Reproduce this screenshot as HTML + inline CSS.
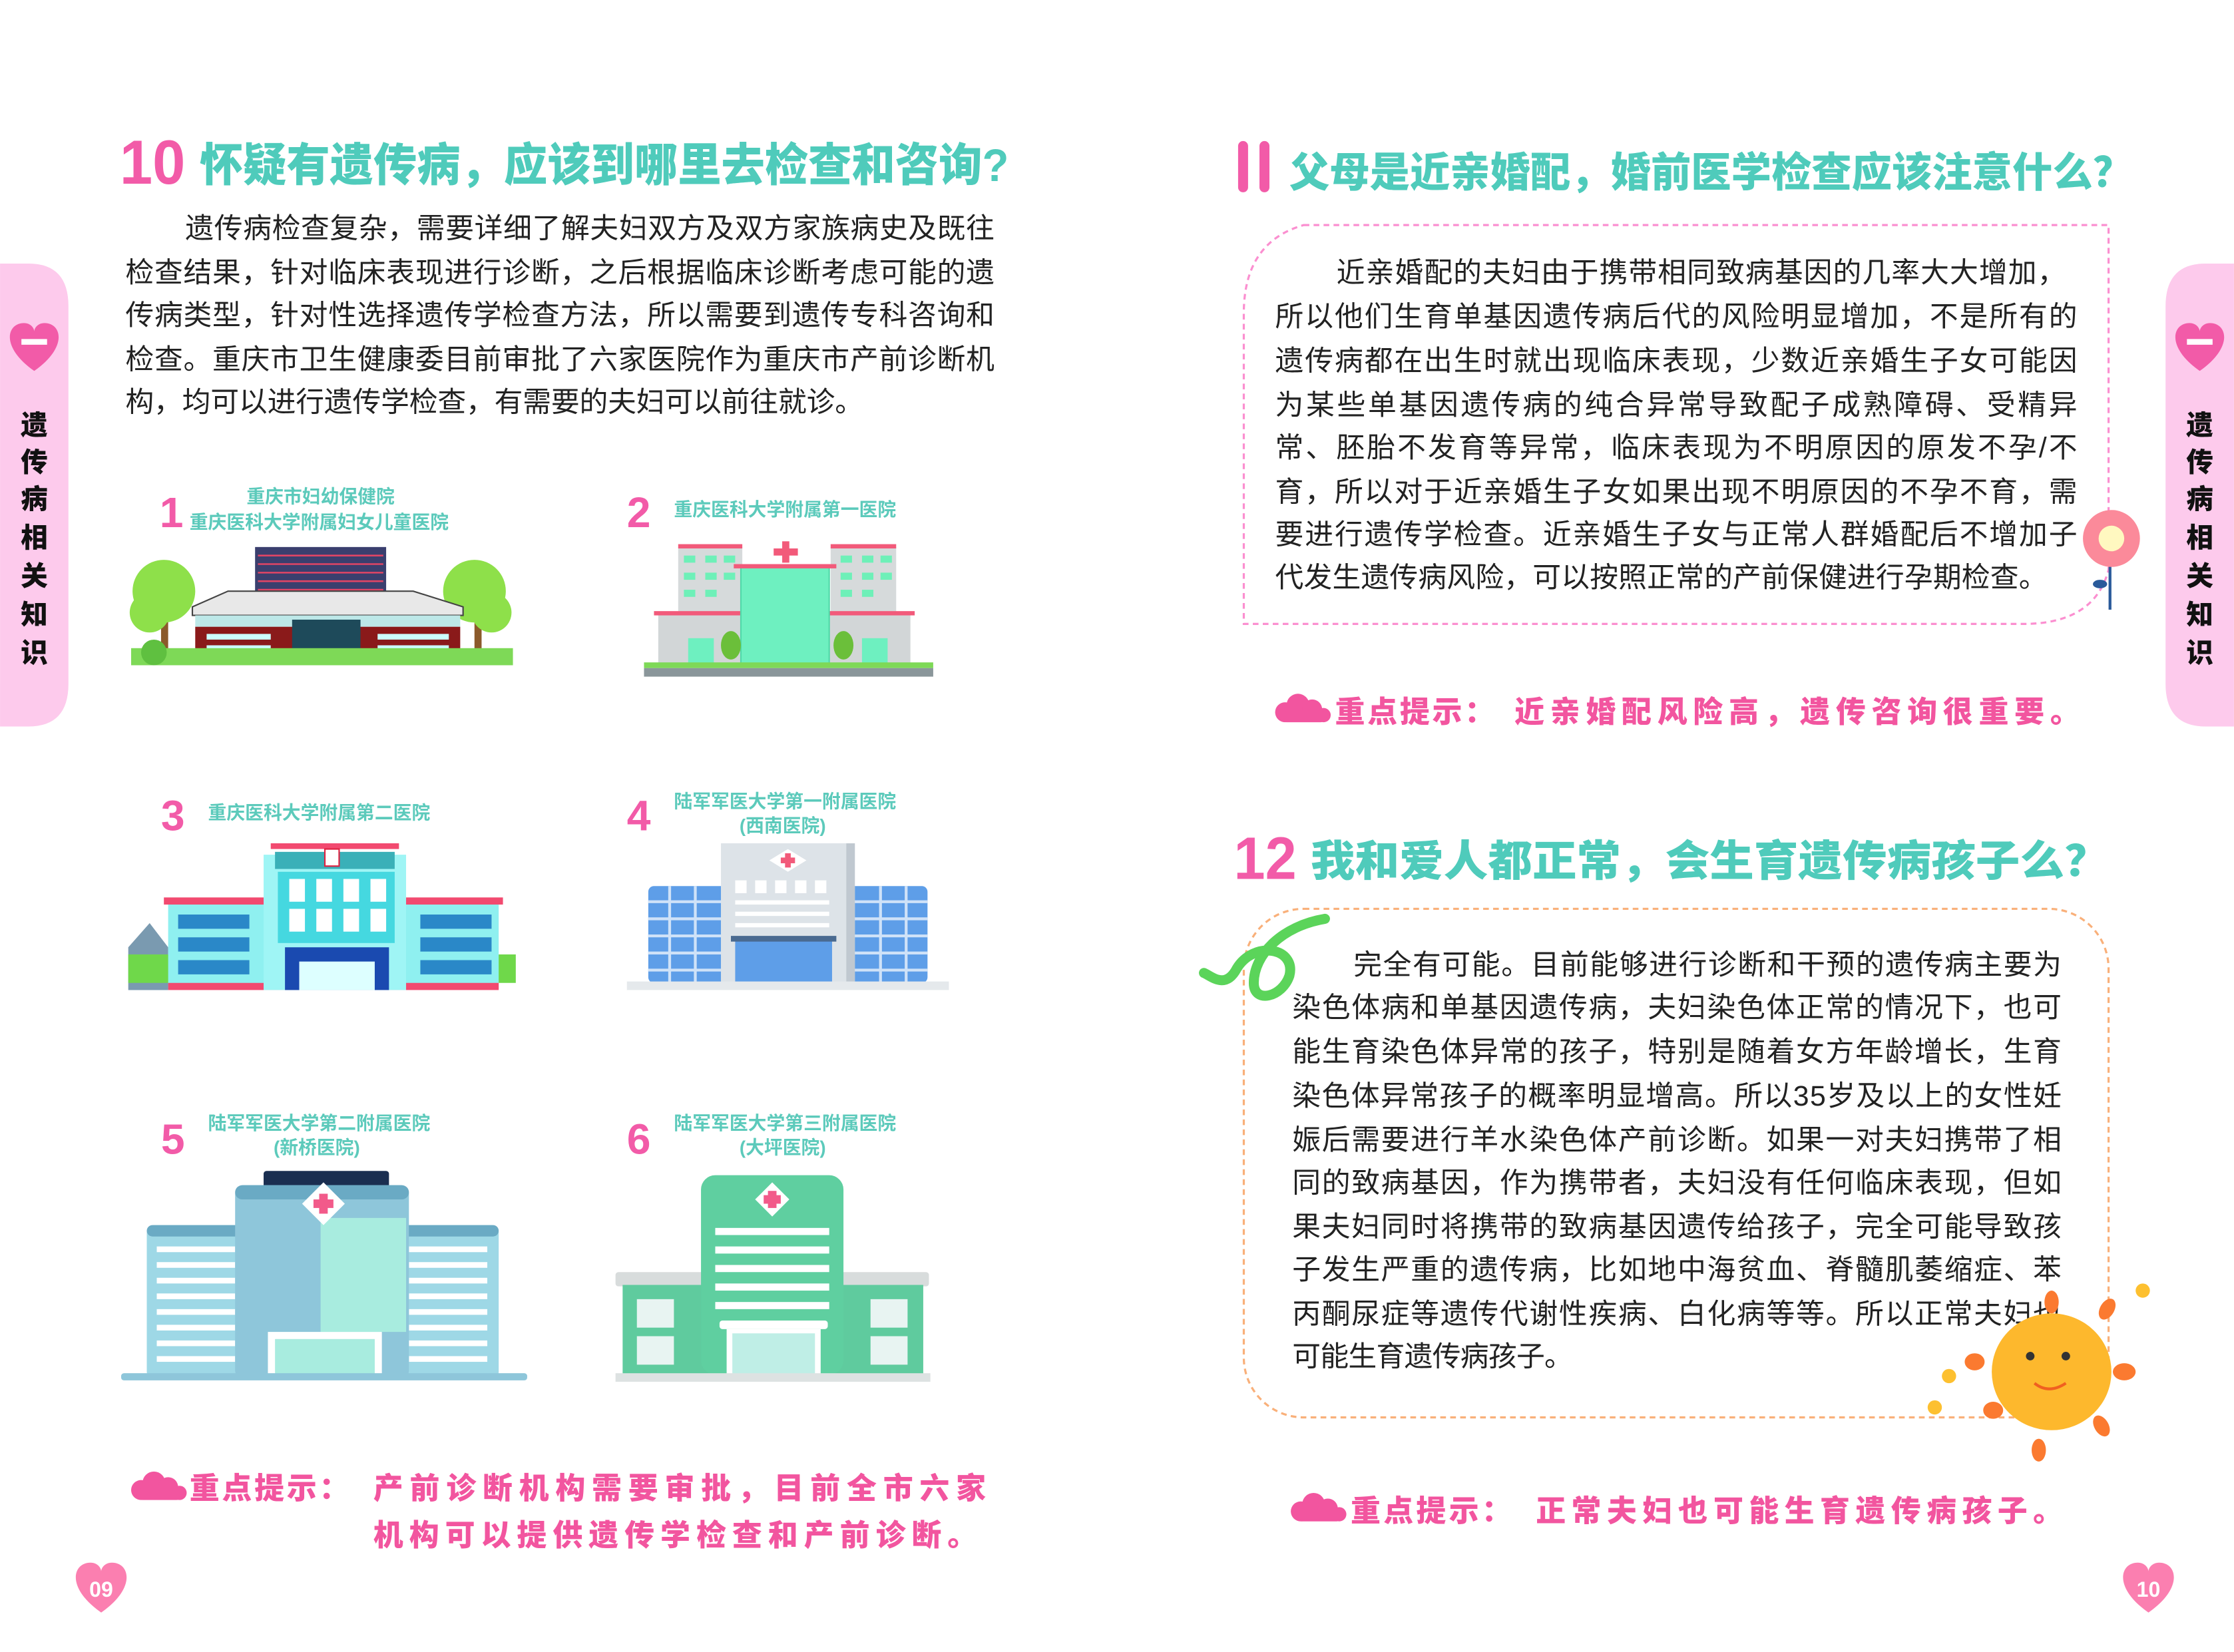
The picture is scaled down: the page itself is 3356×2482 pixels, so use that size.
<!DOCTYPE html>
<html><head><meta charset="utf-8"><style>
html,body{margin:0;padding:0;background:#fff;width:3356px;height:2482px;overflow:hidden}
svg{display:block}
.b{font-family:"Liberation Sans","Noto Sans CJK SC",sans-serif;font-size:20px;fill:#222}
.t{font-family:"Liberation Sans","Noto Sans CJK SC",sans-serif;font-weight:900;fill:#4fcbbb}
.p{font-family:"Liberation Sans","Noto Sans CJK SC",sans-serif;font-weight:900;fill:#f2559f;font-size:21px}
.n{font-family:"Liberation Sans","Noto Sans CJK SC",sans-serif;font-weight:900;fill:#f25ba8}
.h{font-family:"Liberation Sans","Noto Sans CJK SC",sans-serif;font-weight:700;fill:#5ccabb;font-size:13px}
.s{font-family:"Liberation Sans","Noto Sans CJK SC",sans-serif;font-weight:900;fill:#111;font-size:19px}
</style></head><body>
<svg width="3356" height="2482" viewBox="0 0 1568 1159.7" xmlns="http://www.w3.org/2000/svg">
<defs>
<g id="heart"><path d="M0,12 C-20,-2 -16,-16 -6,-16 C-2,-16 0,-13 0,-11 C0,-13 2,-16 6,-16 C16,-16 20,-2 0,12Z"/></g>
<g id="cloud"><circle cx="0" cy="0" r="7"/><circle cx="9" cy="-5" r="8"/><circle cx="19" cy="-2" r="7"/><circle cx="27" cy="2" r="5"/><rect x="-3" y="-1" width="32" height="8" rx="4"/></g>
</defs>
<!-- sidebars -->
<path d="M0,185 H20 Q48,185 48,215 V480 Q48,510 20,510 H0Z" fill="#fdcaec"/>
<path d="M1568,185 H1548 Q1520,185 1520,215 V480 Q1520,510 1548,510 H1568Z" fill="#fdcaec"/>
<g fill="#f25ba8"><use href="#heart" transform="translate(24,246) scale(1.2)"/><use href="#heart" transform="translate(1544,246) scale(1.2)"/></g>
<rect x="15" y="238" width="18" height="4" fill="#fff"/><rect x="1535" y="238" width="18" height="4" fill="#fff"/>
<g class="s" text-anchor="middle">
<text x="24" y="305">遗</text><text x="24" y="331">传</text><text x="24" y="357">病</text><text x="24" y="384">相</text><text x="24" y="411">关</text><text x="24" y="438">知</text><text x="24" y="465">识</text>
<text x="1544" y="305">遗</text><text x="1544" y="331">传</text><text x="1544" y="357">病</text><text x="1544" y="384">相</text><text x="1544" y="411">关</text><text x="1544" y="438">知</text><text x="1544" y="465">识</text>
</g>
<!-- title 10 -->
<text class="n" x="84" y="129" font-size="44" textLength="46" lengthAdjust="spacingAndGlyphs">10</text>
<text class="t" x="140" y="127" font-size="32" textLength="568" lengthAdjust="spacingAndGlyphs">怀疑有遗传病，应该到哪里去检查和咨询?</text>
<g class="b">
<text x="130" y="167" textLength="568">遗传病检查复杂，需要详细了解夫妇双方及双方家族病史及既往</text>
<text x="88" y="198" textLength="610">检查结果，针对临床表现进行诊断，之后根据临床诊断考虑可能的遗</text>
<text x="88" y="228" textLength="610">传病类型，针对性选择遗传学检查方法，所以需要到遗传专科咨询和</text>
<text x="88" y="259" textLength="610">检查。重庆市卫生健康委目前审批了六家医院作为重庆市产前诊断机</text>
<text x="88" y="289" textLength="518">构，均可以进行遗传学检查，有需要的夫妇可以前往就诊。</text>
</g>
<!-- hospital labels -->
<g class="n" font-size="30">
<text x="112" y="370">1</text><text x="440" y="370">2</text><text x="113" y="583">3</text><text x="440" y="583">4</text><text x="113" y="810">5</text><text x="440" y="810">6</text>
</g>
<g class="h">
<text x="173" y="353">重庆市妇幼保健院</text><text x="133" y="371">重庆医科大学附属妇女儿童医院</text>
<text x="473" y="362">重庆医科大学附属第一医院</text>
<text x="146" y="575">重庆医科大学附属第二医院</text>
<text x="473" y="567">陆军军医大学第一附属医院</text><text x="519" y="584">(西南医院)</text>
<text x="146" y="793">陆军军医大学第二附属医院</text><text x="192" y="810">(新桥医院)</text>
<text x="473" y="793">陆军军医大学第三附属医院</text><text x="519" y="810">(大坪医院)</text>
</g>
<!-- H1 -->
<g>
<rect x="113" y="430" width="5" height="30" fill="#8b5a2b"/><circle cx="115" cy="415" r="22" fill="#8ee04a"/><circle cx="105" cy="430" r="14" fill="#8ee04a"/>
<rect x="333" y="430" width="5" height="30" fill="#8b5a2b"/><circle cx="333" cy="415" r="22" fill="#8ee04a"/><circle cx="345" cy="430" r="14" fill="#8ee04a"/>
<rect x="179" y="384" width="92" height="35" fill="#3a3f6e"/>
<g stroke="#e04565" stroke-width="1.2"><line x1="181" y1="390" x2="269" y2="390"/><line x1="181" y1="396" x2="269" y2="396"/><line x1="181" y1="402" x2="269" y2="402"/><line x1="181" y1="408" x2="269" y2="408"/><line x1="181" y1="414" x2="269" y2="414"/></g>
<path d="M135,426 L160,415 H290 L325,426 V432 H135Z" fill="#e8e8e8" stroke="#444"/>
<rect x="137" y="432" width="186" height="8" fill="#bde8e8"/>
<rect x="137" y="440" width="186" height="22" fill="#8a1a1a"/>
<rect x="205" y="435" width="48" height="27" fill="#1e4a5a"/>
<g fill="#cff"><rect x="145" y="445" width="45" height="4"/><rect x="265" y="445" width="50" height="4"/><rect x="145" y="453" width="45" height="4"/><rect x="265" y="453" width="50" height="4"/></g>
<rect x="92" y="455" width="268" height="12" fill="#7ed957"/>
<circle cx="108" cy="458" r="9" fill="#5fc040"/>
</g>
<!-- H2 -->
<g>
<rect x="476" y="384" width="45" height="48" fill="#d6dadb"/><rect x="583" y="384" width="46" height="48" fill="#d6dadb"/>
<rect x="476" y="382" width="45" height="3" fill="#f25a7a"/><rect x="583" y="382" width="46" height="3" fill="#f25a7a"/>
<g fill="#6ef0b8"><rect x="480" y="390" width="8" height="5"/><rect x="495" y="390" width="8" height="5"/><rect x="508" y="390" width="8" height="5"/><rect x="480" y="402" width="8" height="5"/><rect x="495" y="402" width="8" height="5"/><rect x="508" y="402" width="8" height="5"/><rect x="480" y="414" width="8" height="5"/><rect x="495" y="414" width="8" height="5"/><rect x="590" y="390" width="8" height="5"/><rect x="605" y="390" width="8" height="5"/><rect x="618" y="390" width="8" height="5"/><rect x="590" y="402" width="8" height="5"/><rect x="605" y="402" width="8" height="5"/><rect x="618" y="402" width="8" height="5"/><rect x="590" y="414" width="8" height="5"/><rect x="605" y="414" width="8" height="5"/></g>
<rect x="462" y="430" width="177" height="36" fill="#d2d6d7"/><rect x="459" y="429" width="183" height="3" fill="#f25a7a"/>
<rect x="520" y="398" width="62" height="68" fill="#6ef0c0" stroke="#4fd9a8"/>
<rect x="515" y="396" width="72" height="3" fill="#f25a7a"/>
<rect x="549" y="380" width="5" height="15" fill="#f25a7a"/><rect x="543" y="385" width="17" height="5" fill="#f25a7a"/>
<rect x="483" y="448" width="18" height="18" fill="#6ef0c0"/><rect x="605" y="448" width="18" height="18" fill="#6ef0c0"/>
<ellipse cx="513" cy="453" rx="7" ry="10" fill="#6bbf3a"/><ellipse cx="592" cy="453" rx="7" ry="10" fill="#6bbf3a"/>
<rect x="452" y="465" width="203" height="4" fill="#7ed957"/><rect x="452" y="469" width="203" height="6" fill="#8a969a"/>
</g>
<!-- H3 -->
<g>
<path d="M90,665 L105,648 L118,665 V695 H90Z" fill="#7a9ab0"/><rect x="90" y="670" width="272" height="20" fill="#6fd84a"/>
<rect x="118" y="632" width="232" height="62" fill="#8ff0f0"/><rect x="115" y="630" width="238" height="5" fill="#f24a70"/>
<g fill="#2a88c8"><rect x="125" y="642" width="50" height="10"/><rect x="125" y="658" width="50" height="10"/><rect x="125" y="674" width="50" height="10"/><rect x="295" y="642" width="50" height="10"/><rect x="295" y="658" width="50" height="10"/><rect x="295" y="674" width="50" height="10"/></g>
<rect x="118" y="690" width="232" height="5" fill="#f24a70"/>
<rect x="185" y="600" width="100" height="95" fill="#9ff5f5"/><rect x="193" y="598" width="84" height="12" fill="#3ab0b8"/><rect x="190" y="592" width="90" height="4" fill="#f24a70"/>
<rect x="195" y="612" width="82" height="50" fill="#45d8e0"/>
<g fill="#fff"><rect x="203" y="617" width="11" height="16"/><rect x="222" y="617" width="11" height="16"/><rect x="241" y="617" width="11" height="16"/><rect x="260" y="617" width="11" height="16"/><rect x="203" y="638" width="11" height="16"/><rect x="222" y="638" width="11" height="16"/><rect x="241" y="638" width="11" height="16"/><rect x="260" y="638" width="11" height="16"/></g>
<rect x="200" y="665" width="73" height="30" fill="#1a4ab0"/><rect x="210" y="675" width="53" height="20" fill="#dff"/>
<rect x="228" y="596" width="10" height="12" fill="#fff" stroke="#e02040"/>
</g>
<!-- H4 -->
<g>
<rect x="455" y="622" width="196" height="68" rx="4" fill="#5e9ee8"/>
<g stroke="#cfe2f8" stroke-width="2"><line x1="455" y1="633" x2="651" y2="633"/><line x1="455" y1="645" x2="651" y2="645"/><line x1="455" y1="657" x2="651" y2="657"/><line x1="455" y1="669" x2="651" y2="669"/><line x1="455" y1="681" x2="651" y2="681"/><line x1="470" y1="622" x2="470" y2="690"/><line x1="488" y1="622" x2="488" y2="690"/><line x1="618" y1="622" x2="618" y2="690"/><line x1="636" y1="622" x2="636" y2="690"/></g>
<rect x="506" y="592" width="94" height="98" fill="#dde3e8"/><rect x="594" y="592" width="6" height="98" fill="#c0c8d0"/>
<path d="M553,596 L566,604 L553,612 L540,604Z" fill="#fff"/><rect x="551" y="599" width="4" height="10" fill="#f25a7a"/><rect x="548" y="602" width="10" height="4" fill="#f25a7a"/>
<g fill="#fff"><rect x="516" y="618" width="8" height="9"/><rect x="530" y="618" width="8" height="9"/><rect x="544" y="618" width="8" height="9"/><rect x="558" y="618" width="8" height="9"/><rect x="572" y="618" width="8" height="9"/><rect x="516" y="632" width="66" height="3"/><rect x="516" y="640" width="66" height="3"/><rect x="516" y="648" width="66" height="3"/></g>
<rect x="516" y="660" width="68" height="30" fill="#5e9ee8"/><rect x="513" y="657" width="74" height="4" fill="#4a6a90"/>
<rect x="440" y="689" width="226" height="6" fill="#e5e9ec"/>
</g>
<!-- H5 -->
<g>
<rect x="103" y="860" width="247" height="108" rx="5" fill="#9ed8e6"/><rect x="103" y="860" width="247" height="8" rx="4" fill="#6aaac4"/>
<g fill="#fff"><rect x="110" y="875" width="55" height="4"/><rect x="110" y="886" width="55" height="4"/><rect x="110" y="897" width="55" height="4"/><rect x="110" y="908" width="55" height="4"/><rect x="110" y="919" width="55" height="4"/><rect x="110" y="930" width="55" height="4"/><rect x="110" y="941" width="55" height="4"/><rect x="110" y="952" width="55" height="4"/><rect x="287" y="875" width="55" height="4"/><rect x="287" y="886" width="55" height="4"/><rect x="287" y="897" width="55" height="4"/><rect x="287" y="908" width="55" height="4"/><rect x="287" y="919" width="55" height="4"/><rect x="287" y="930" width="55" height="4"/><rect x="287" y="941" width="55" height="4"/><rect x="287" y="952" width="55" height="4"/></g>
<rect x="185" y="822" width="88" height="14" rx="2" fill="#1a2e50"/>
<rect x="165" y="832" width="122" height="136" rx="6" fill="#8ec6da"/><rect x="165" y="832" width="122" height="10" rx="5" fill="#6aaac4"/>
<rect x="225" y="855" width="60" height="80" fill="#a8ecdf"/>
<path d="M227,830 L242,845 L227,860 L212,845Z" fill="#fff"/><rect x="224" y="838" width="6" height="14" fill="#f25a8a"/><rect x="220" y="842" width="14" height="6" fill="#f25a8a"/>
<rect x="188" y="935" width="80" height="33" fill="#fff"/><rect x="193" y="940" width="70" height="28" fill="#a8ecdf"/>
<rect x="85" y="964" width="285" height="5" rx="2" fill="#8ec6da"/>
</g>
<!-- H6 -->
<g>
<rect x="432" y="893" width="220" height="10" rx="2" fill="#d8dcdc"/>
<rect x="437" y="902" width="211" height="63" fill="#5fcb9e"/>
<g fill="#e8f4f2"><rect x="447" y="912" width="26" height="20"/><rect x="447" y="938" width="26" height="20"/><rect x="611" y="912" width="26" height="20"/><rect x="611" y="938" width="26" height="20"/></g>
<rect x="492" y="825" width="100" height="140" rx="10" fill="#5fcfa0"/>
<path d="M542,830 L554,842 L542,854 L530,842Z" fill="#fff"/><rect x="539" y="836" width="6" height="12" fill="#f25a8a"/><rect x="536" y="839" width="12" height="6" fill="#f25a8a"/>
<g fill="#fff"><rect x="502" y="862" width="80" height="5"/><rect x="502" y="875" width="80" height="5"/><rect x="502" y="888" width="80" height="5"/><rect x="502" y="901" width="80" height="5"/><rect x="502" y="914" width="80" height="5"/><rect x="505" y="927" width="76" height="6" rx="2"/><rect x="510" y="933" width="66" height="32"/></g>
<rect x="514" y="936" width="58" height="29" fill="#bfeee6"/>
<rect x="432" y="964" width="221" height="6" fill="#dde2e2"/>
</g>
<!-- tip left -->
<g fill="#f2559f"><use href="#cloud" transform="translate(99,1046)"/></g>
<text class="p" x="133" y="1052" textLength="112">重点提示：</text>
<text class="p" x="262" y="1052" textLength="430">产前诊断机构需要审批，目前全市六家</text>
<text class="p" x="262" y="1085" textLength="424">机构可以提供遗传学检查和产前诊断。</text>
<!-- page numbers -->
<g fill="#fb7fb0"><use href="#heart" transform="translate(71,1117) scale(1.25)"/><use href="#heart" transform="translate(1508,1117) scale(1.25)"/></g>
<text x="71" y="1121" text-anchor="middle" font-family="Liberation Sans,sans-serif" font-weight="700" font-size="15" fill="#fff">09</text>
<text x="1508" y="1121" text-anchor="middle" font-family="Liberation Sans,sans-serif" font-weight="700" font-size="15" fill="#fff">10</text>
<!-- title 11 -->
<rect x="869" y="99" width="7" height="36" rx="3.5" fill="#f25ba8"/><rect x="884" y="99" width="7" height="36" rx="3.5" fill="#f25ba8"/>
<text class="t" x="905" y="131" font-size="29" textLength="592" lengthAdjust="spacingAndGlyphs">父母是近亲婚配，婚前医学检查应该注意什么？</text>
<path d="M915,158 H1480 V400 Q1470,438 1420,438 H873 V220 Q873,170 915,158Z" fill="none" stroke="#fb8fd0" stroke-width="1.5" stroke-dasharray="4,3"/>
<g class="b">
<text x="938" y="198" textLength="512">近亲婚配的夫妇由于携带相同致病基因的几率大大增加，</text>
<text x="895" y="229" textLength="563">所以他们生育单基因遗传病后代的风险明显增加，不是所有的</text>
<text x="895" y="260" textLength="563">遗传病都在出生时就出现临床表现，少数近亲婚生子女可能因</text>
<text x="895" y="291" textLength="563">为某些单基因遗传病的纯合异常导致配子成熟障碍、受精异</text>
<text x="895" y="321" textLength="563">常、胚胎不发育等异常，临床表现为不明原因的原发不孕/不</text>
<text x="895" y="352" textLength="563">育，所以对于近亲婚生子女如果出现不明原因的不孕不育，需</text>
<text x="895" y="382" textLength="563">要进行遗传学检查。近亲婚生子女与正常人群婚配后不增加子</text>
<text x="895" y="412" textLength="542">代发生遗传病风险，可以按照正常的产前保健进行孕期检查。</text>
</g>
<!-- flower -->
<g><line x1="1481" y1="395" x2="1481" y2="428" stroke="#2a5a9a" stroke-width="2"/><ellipse cx="1474" cy="410" rx="5" ry="3" fill="#2a5a9a"/>
<circle cx="1482" cy="378" r="20" fill="#fb8a9a"/><circle cx="1482" cy="378" r="9" fill="#fff8c0"/></g>
<!-- tip 2 -->
<g fill="#f2559f"><use href="#cloud" transform="translate(902,500)"/></g>
<text class="p" x="937" y="507" textLength="112">重点提示：</text>
<text class="p" x="1063" y="507" textLength="397">近亲婚配风险高，遗传咨询很重要。</text>
<!-- title 12 -->
<text class="n" x="866" y="617" font-size="42" textLength="44" lengthAdjust="spacingAndGlyphs">12</text>
<text class="t" x="920" y="615" font-size="30" textLength="560" lengthAdjust="spacingAndGlyphs">我和爱人都正常，会生育遗传病孩子么？</text>
<rect x="873" y="638" width="607" height="357" rx="42" fill="none" stroke="#f9b07a" stroke-width="1.5" stroke-dasharray="4,3"/>
<path d="M930,645 C900,650 880,670 880,690 C880,705 900,700 905,685 C910,665 880,660 868,680 C860,695 850,685 845,683" fill="none" stroke="#5bd45a" stroke-width="7" stroke-linecap="round"/>
<g class="b">
<text x="950" y="684" textLength="497">完全有可能。目前能够进行诊断和干预的遗传病主要为</text>
<text x="907" y="714" textLength="540">染色体病和单基因遗传病，夫妇染色体正常的情况下，也可</text>
<text x="907" y="745" textLength="540">能生育染色体异常的孩子，特别是随着女方年龄增长，生育</text>
<text x="907" y="776" textLength="540">染色体异常孩子的概率明显增高。所以35岁及以上的女性妊</text>
<text x="907" y="807" textLength="540">娠后需要进行羊水染色体产前诊断。如果一对夫妇携带了相</text>
<text x="907" y="837" textLength="540">同的致病基因，作为携带者，夫妇没有任何临床表现，但如</text>
<text x="907" y="868" textLength="540">果夫妇同时将携带的致病基因遗传给孩子，完全可能导致孩</text>
<text x="907" y="898" textLength="540">子发生严重的遗传病，比如地中海贫血、脊髓肌萎缩症、苯</text>
<text x="907" y="929" textLength="540">丙酮尿症等遗传代谢性疾病、白化病等等。所以正常夫妇也</text>
<text x="907" y="959" textLength="197">可能生育遗传病孩子。</text>
</g>
<!-- sun -->
<g fill="#fb7a30">
<ellipse cx="1440" cy="914" rx="5" ry="8"/><ellipse cx="1479" cy="919" rx="5" ry="8" transform="rotate(30 1479 919)"/><ellipse cx="1491" cy="963" rx="8" ry="6"/><ellipse cx="1475" cy="1001" rx="5" ry="8" transform="rotate(-30 1475 1001)"/><ellipse cx="1431" cy="1018" rx="5" ry="8"/><ellipse cx="1399" cy="990" rx="7" ry="6"/><ellipse cx="1386" cy="956" rx="7" ry="6"/>
</g>
<ellipse cx="1440" cy="963" rx="42" ry="41" fill="#fdb82d"/>
<circle cx="1425" cy="952" r="3" fill="#333"/><circle cx="1450" cy="952" r="3" fill="#333"/>
<path d="M1428,971 Q1438,979 1450,971" fill="none" stroke="#f06020" stroke-width="2"/>
<g fill="#fdc030"><circle cx="1368" cy="966" r="5"/><circle cx="1358" cy="988" r="5"/><circle cx="1504" cy="906" r="5"/></g>
<!-- tip 3 -->
<g fill="#f2559f"><use href="#cloud" transform="translate(913,1061)"/></g>
<text class="p" x="948" y="1068" textLength="113">重点提示：</text>
<text class="p" x="1078" y="1068" textLength="370">正常夫妇也可能生育遗传病孩子。</text>
</svg>
</body></html>
